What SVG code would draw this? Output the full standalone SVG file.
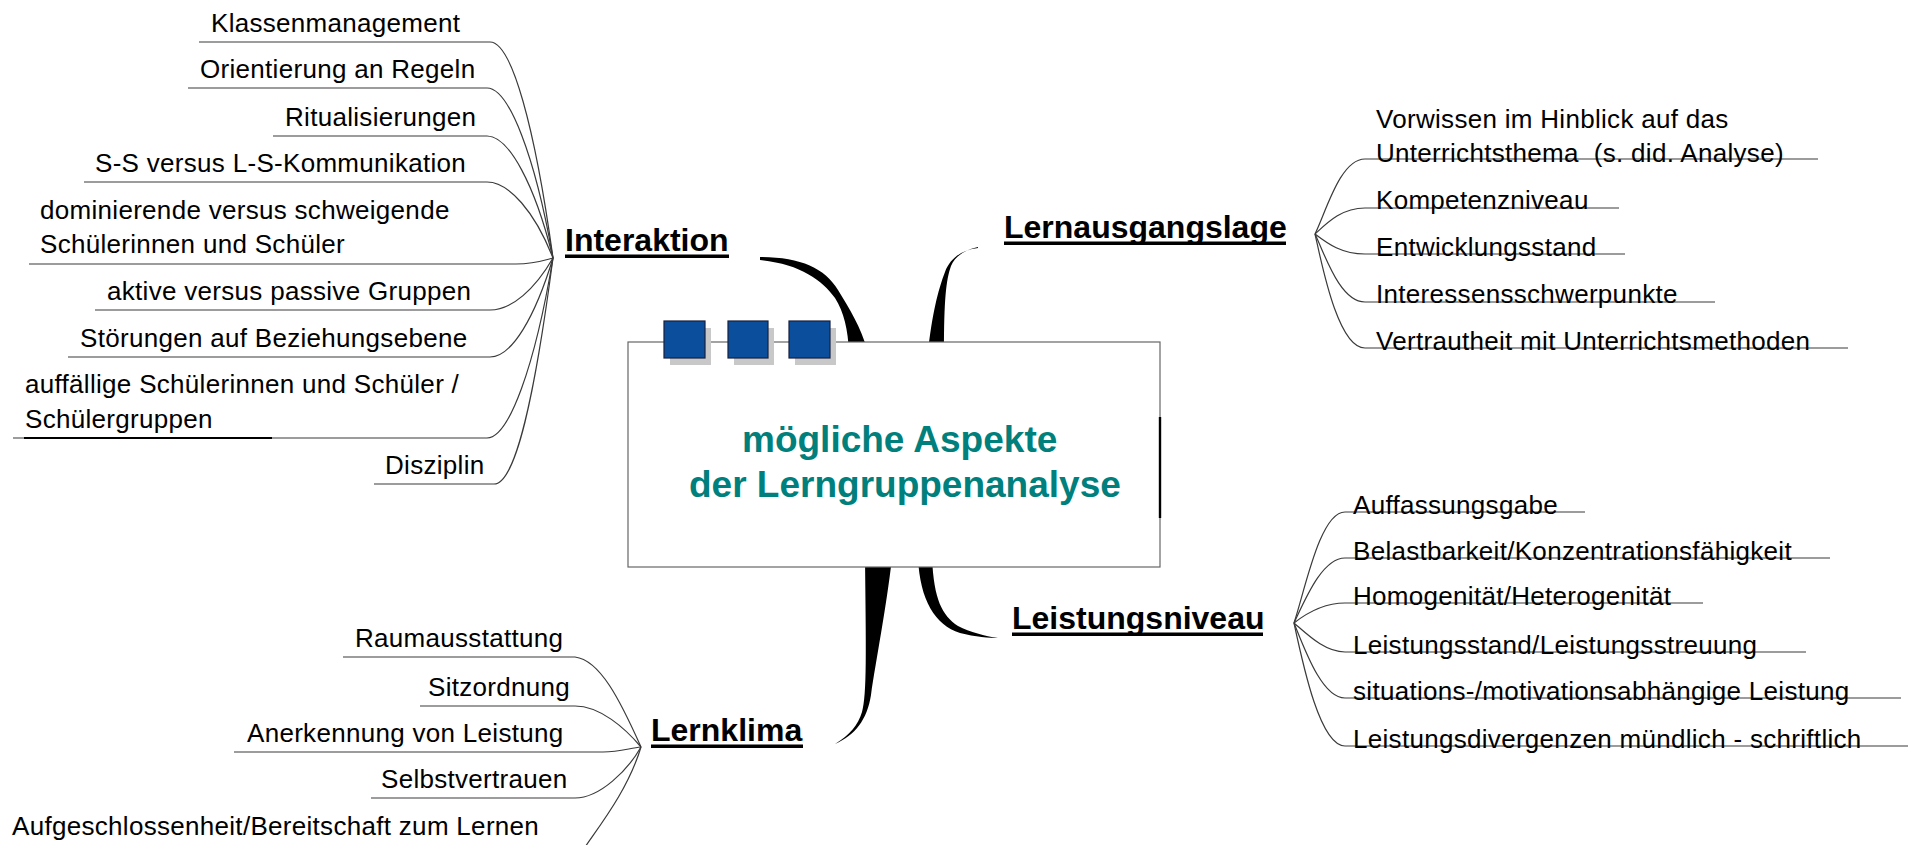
<svg xmlns="http://www.w3.org/2000/svg" width="1916" height="845" viewBox="0 0 1916 845">
<style>
text{font-family:"Liberation Sans",Arial,Helvetica,sans-serif}
.leaf{font-size:26px;fill:#000;letter-spacing:0.3px}
.head{font-size:32px;font-weight:bold;fill:#000}
.title{font-size:37px;font-weight:bold;fill:#00807c}
.ln{fill:none;stroke:#3a3a3a;stroke-width:1.2}
.branch{fill:#000;stroke:none}
.ul{fill:#000}
.sq{fill:#0b4f9c;stroke:#16213d;stroke-width:1.2}
.sh{fill:#c8c8c8}
</style>
<rect width="1916" height="845" fill="#fff"/>
<g id="connectors">
  <path class="branch" d="M760,257 C800,257 825,268 838,290 C850,310 860,325 868,352 L849,352 C848,330 844,312 835,298 C822,280 800,264 760,260 Z"/>
  <path class="branch" d="M978,247 C965,250 955,256 951,266 C946,280 944,300 944,352 L928,352 C932,315 938,290 945,272 C950,258 962,250 978,248 Z"/>
  <path class="branch" d="M865,558 L892,558 C886,610 876,660 871,695 C867,720 855,735 835,744 C850,735 858,725 862,712 C867,695 866,650 865,558 Z"/>
  <path class="branch" d="M918,558 C920,600 935,625 960,633 C975,637 990,638 998,638 C985,636 970,632 958,626 C942,615 934,600 932,558 Z"/>
  <path class="ln" d="M199,42 H490 C512,42 535,128 553,258"/>
  <path class="ln" d="M188,88 H487 C509,88 535,156 553,258"/>
  <path class="ln" d="M273,136 H487 C509,136 535,185 553,258"/>
  <path class="ln" d="M84,182 H487 C509,182 535,212 553,258"/>
  <path class="ln" d="M29,264 H516 C535,264 545,260 553,258"/>
  <path class="ln" d="M95,310 H490 C512,310 535,289 553,258"/>
  <path class="ln" d="M68,357 H490 C512,357 535,317 553,258"/>
  <path class="ln" d="M13,438 H487 C509,438 535,366 553,258"/>
  <path d="M24,438 H272" stroke="#000" stroke-width="2.2" fill="none"/>
  <path class="ln" d="M374,484 H494 C516,484 535,394 553,258"/>
  <path class="ln" d="M1315,234 C1326,212 1340,159 1365,159 H1818"/>
  <path class="ln" d="M1315,234 C1328,222 1342,208 1365,208 H1619"/>
  <path class="ln" d="M1315,234 C1328,244 1342,254 1365,254 H1625"/>
  <path class="ln" d="M1315,234 C1325,255 1340,302 1365,302 H1715"/>
  <path class="ln" d="M1315,234 C1322,265 1338,348 1365,348 H1848"/>
  <path class="ln" d="M1294,623 C1305,590 1320,512 1345,512 H1585"/>
  <path class="ln" d="M1294,623 C1305,600 1322,558 1345,558 H1830"/>
  <path class="ln" d="M1294,623 C1308,612 1325,603 1345,603 H1703"/>
  <path class="ln" d="M1294,623 C1308,635 1325,652 1345,652 H1806"/>
  <path class="ln" d="M1294,623 C1305,650 1322,698 1345,698 H1901"/>
  <path class="ln" d="M1294,623 C1303,665 1320,746 1345,746 H1908"/>
  <path class="ln" d="M343,657 H575 C600,660 620,700 641,747"/>
  <path class="ln" d="M420,706 H575 C600,706 625,728 641,747"/>
  <path class="ln" d="M234,752 H603 C620,752 630,748 641,747"/>
  <path class="ln" d="M371,798 H575 C600,798 628,770 641,747"/>
  <path class="ln" d="M641,747 C628,790 600,825 583,850"/>
</g>
<g id="center">
  <rect x="628" y="342" width="532" height="225" fill="#fff" stroke="#666" stroke-width="1.2"/>
  <line x1="1160" y1="417" x2="1160" y2="518" stroke="#000" stroke-width="2.4"/>
  <rect class="sh" x="670" y="328" width="41" height="37"/>
  <rect class="sh" x="734" y="328" width="40" height="37"/>
  <rect class="sh" x="795" y="328" width="41" height="37"/>
  <rect class="sq" x="664" y="321" width="41" height="37"/>
  <rect class="sq" x="728" y="321" width="40" height="37"/>
  <rect class="sq" x="789" y="321" width="41" height="37"/>
  <text class="title" x="742" y="452">mögliche Aspekte</text>
  <text class="title" x="689" y="497">der Lerngruppenanalyse</text>
</g>
<g id="interaktion">
  <text class="head" x="565" y="251">Interaktion</text>
  <rect class="ul" x="565" y="254.5" width="164" height="3.5"/>
</g>
<g id="lernausgangslage">
  <text class="head" x="1004" y="238">Lernausgangslage</text>
  <rect class="ul" x="1004" y="241.5" width="282" height="3.5"/>
</g>
<g id="leistungsniveau">
  <text class="head" x="1012" y="629">Leistungsniveau</text>
  <rect class="ul" x="1012" y="632.5" width="251" height="3.5"/>
</g>
<g id="lernklima">
  <text class="head" x="651" y="741">Lernklima</text>
  <rect class="ul" x="651" y="744.5" width="152" height="3.5"/>
</g>
<g id="leaves-interaktion">
  <g id="klassenmanagement"><text class="leaf" x="211" y="32">Klassenmanagement</text></g>
  <g id="orientierung"><text class="leaf" x="200" y="78">Orientierung an Regeln</text></g>
  <g id="ritualisierungen"><text class="leaf" x="285" y="126">Ritualisierungen</text></g>
  <g id="kommunikation"><text class="leaf" x="95" y="172">S-S versus L-S-Kommunikation</text></g>
  <g id="dominierende"><text class="leaf" x="40" y="219">dominierende versus schweigende</text><text class="leaf" x="40" y="253">Schülerinnen und Schüler</text></g>
  <g id="aktive"><text class="leaf" x="107" y="300">aktive versus passive Gruppen</text></g>
  <g id="stoerungen"><text class="leaf" x="80" y="347">Störungen auf Beziehungsebene</text></g>
  <g id="auffaellige"><text class="leaf" x="25" y="393">auffällige Schülerinnen und Schüler /</text><text class="leaf" x="25" y="428">Schülergruppen</text></g>
  <g id="disziplin"><text class="leaf" x="385" y="474">Disziplin</text></g>
</g>
<g id="leaves-lernausgangslage">
  <g id="vorwissen"><text class="leaf" x="1376" y="128">Vorwissen im Hinblick auf das</text><text class="leaf" x="1376" y="162">Unterrichtsthema&#160; (s. did. Analyse)</text></g>
  <g id="kompetenzniveau"><text class="leaf" x="1376" y="209">Kompetenzniveau</text></g>
  <g id="entwicklungsstand"><text class="leaf" x="1376" y="256">Entwicklungsstand</text></g>
  <g id="interessen"><text class="leaf" x="1376" y="303">Interessensschwerpunkte</text></g>
  <g id="vertrautheit"><text class="leaf" x="1376" y="350">Vertrautheit mit Unterrichtsmethoden</text></g>
</g>
<g id="leaves-leistungsniveau">
  <g id="auffassungsgabe"><text class="leaf" x="1353" y="514">Auffassungsgabe</text></g>
  <g id="belastbarkeit"><text class="leaf" x="1353" y="560">Belastbarkeit/Konzentrationsfähigkeit</text></g>
  <g id="homogenitaet"><text class="leaf" x="1353" y="605">Homogenität/Heterogenität</text></g>
  <g id="leistungsstand"><text class="leaf" x="1353" y="654">Leistungsstand/Leistungsstreuung</text></g>
  <g id="situations"><text class="leaf" x="1353" y="700">situations-/motivationsabhängige Leistung</text></g>
  <g id="divergenzen"><text class="leaf" x="1353" y="748">Leistungsdivergenzen mündlich - schriftlich</text></g>
</g>
<g id="leaves-lernklima">
  <g id="raumausstattung"><text class="leaf" x="355" y="647">Raumausstattung</text></g>
  <g id="sitzordnung"><text class="leaf" x="428" y="696">Sitzordnung</text></g>
  <g id="anerkennung"><text class="leaf" x="247" y="742">Anerkennung von Leistung</text></g>
  <g id="selbstvertrauen"><text class="leaf" x="381" y="788">Selbstvertrauen</text></g>
  <g id="aufgeschlossenheit"><text class="leaf" x="12" y="835">Aufgeschlossenheit/Bereitschaft zum Lernen</text></g>
</g>
</svg>
